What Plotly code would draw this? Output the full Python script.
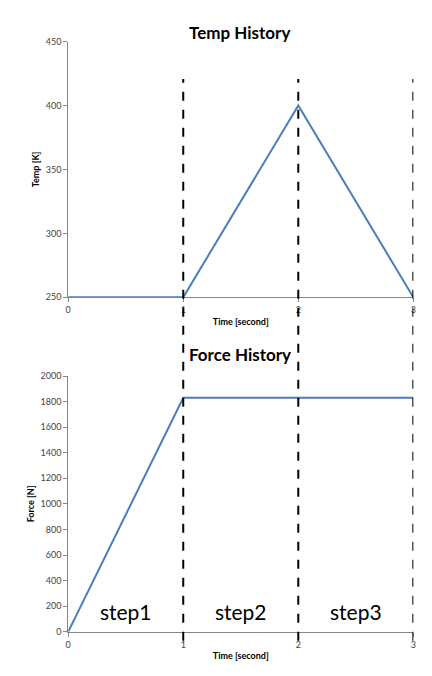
import plotly.graph_objects as go

# data
temp_t = [0, 1, 2, 3]
temp_k = [250, 250, 400, 250]
force_t = [0, 1, 2, 3]
force_n = [0, 1830, 1830, 1830]
step_x = [0.5, 1.5, 2.5]
step_labels = ["step1", "step2", "step3"]
dash_x = [1, 2, 3]

H = 676
def py(px):
    return 1 - px / H

blue = "#4a7ebb"
fig = go.Figure()
fig.add_trace(go.Scatter(x=temp_t, y=temp_k, mode="lines", line=dict(color=blue, width=2),
                         xaxis="x", yaxis="y"))
fig.add_trace(go.Scatter(x=force_t, y=force_n, mode="lines", line=dict(color=blue, width=2),
                         xaxis="x2", yaxis="y2"))
fig.add_trace(go.Scatter(x=step_x, y=[130, 130, 130], mode="text", text=step_labels,
                         textfont=dict(size=21, color="black", family="Lato"),
                         xaxis="x2", yaxis="y2"))

ax = dict(range=[0, 3], dtick=1, showgrid=False, showline=True, linecolor="#868686",
          ticks="outside", ticklen=4, tickcolor="#868686", zeroline=False,
          tickfont=dict(size=9, color="#444"), domain=[58 / 432, 408 / 432])
ttl = dict(font=dict(size=9, color="black", family="Lato"), standoff=4)
fig.update_layout(
    width=432, height=676, margin=dict(l=0, r=0, t=0, b=0),
    plot_bgcolor="white", paper_bgcolor="white", showlegend=False,
    font=dict(family="Lato"),
    xaxis=dict(ax, anchor="y", title=dict(ttl, text="<b>Time [second]</b>")),
    yaxis=dict(range=[250, 450], dtick=50, domain=[py(288), py(28)], showgrid=False,
               showline=True, linecolor="#868686", ticks="outside", ticklen=4,
               tickcolor="#868686", zeroline=False, tickfont=dict(size=9, color="#444"),
               title=dict(ttl, text="<b>Temp [K]</b>")),
    xaxis2=dict(ax, anchor="y2", title=dict(ttl, text="<b>Time [second]</b>")),
    yaxis2=dict(range=[0, 2000], dtick=200, domain=[py(628), py(368)], showgrid=False,
                showline=True, linecolor="#868686", ticks="outside", ticklen=4,
                tickcolor="#868686", zeroline=False, tickfont=dict(size=9, color="#444"),
                title=dict(ttl, text="<b>Force [N]</b>")),
    annotations=[
        dict(text="<b>Temp History</b>", x=232 / 432, y=py(6), xref="paper", yref="paper",
             showarrow=False, font=dict(size=17, color="black", family="Lato")),
        dict(text="<b>Force History</b>", x=232 / 432, y=py(346), xref="paper", yref="paper",
             showarrow=False, font=dict(size=17, color="black", family="Lato")),
    ],
)
for xv in dash_x:
    fig.add_shape(type="line", xref="x", yref="paper", x0=xv, x1=xv, y0=py(637), y1=py(66),
                  line=dict(color="black", width=2, dash="dash"))

fig.write_html("out.html")
